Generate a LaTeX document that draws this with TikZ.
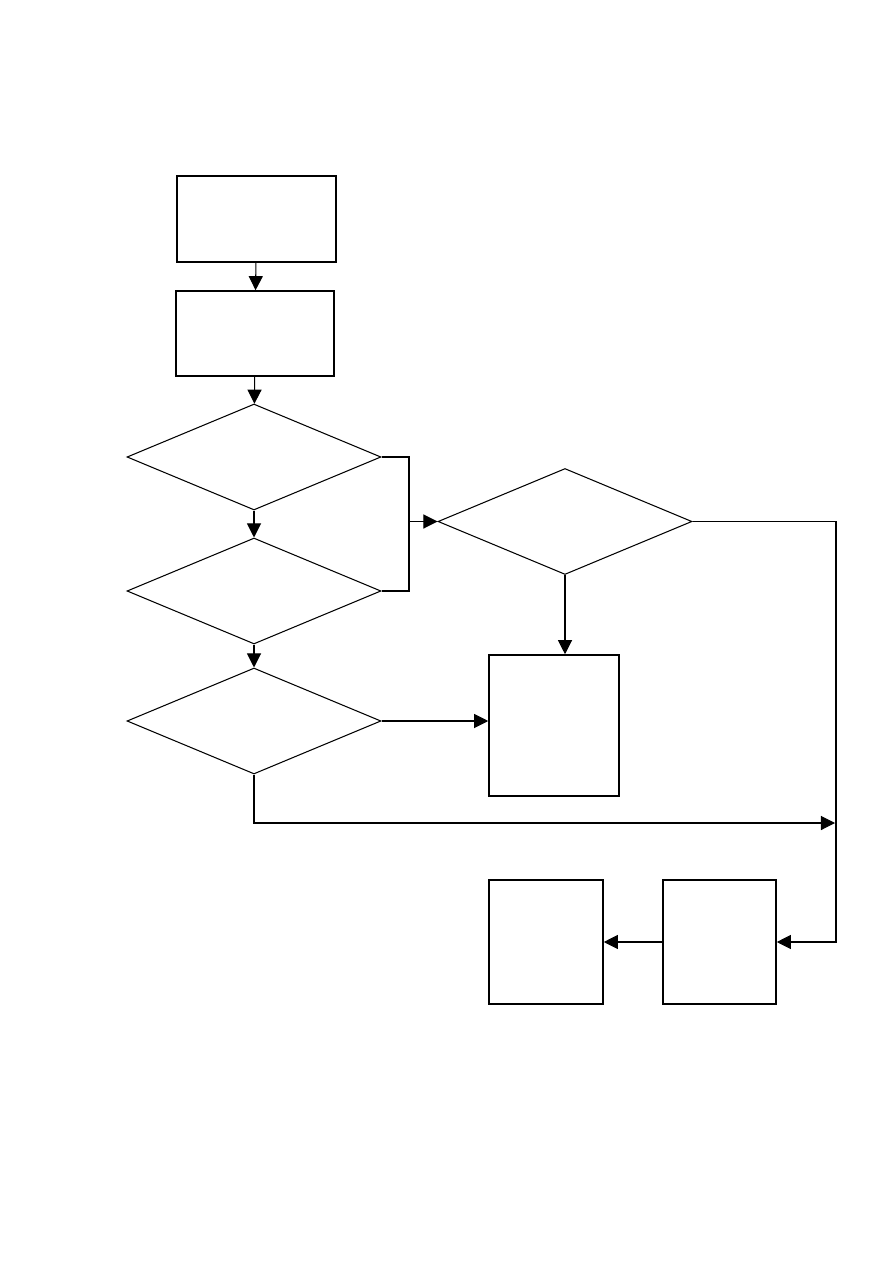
\documentclass[tikz,border=0pt]{standalone}
\usepackage{tikz}
\usetikzlibrary{arrows.meta, shapes.geometric, positioning, calc}
\tikzset{
  % plain process box
  PBox/.style={rectangle,draw=black,fill=white,inner sep=0pt,
               line width=0.9pt,minimum width=#1},
  PBox/.default=3.18cm,
  % decision diamond
  DBox/.style={diamond,draw=black,fill=white,inner sep=0pt,
               line width=0.6pt,minimum width=5.08cm,minimum height=2.12cm},
  % connectors
  Arr/.style ={-{Triangle[length=8pt,width=8pt]},line width=0.6pt,color=black},
  Ln/.style  ={line width=0.6pt,color=black},
}
\begin{document}
\begin{tikzpicture}[x=0.02cm,y=-0.02cm]
      \useasboundingbox (0,0) rectangle (893,1263);
      % left column
      \node[PBox,minimum height=1.72cm] at (256.5,219) (start) {};
      \node[PBox=3.16cm,minimum height=1.70cm] at (255,333.5) (prep) {};
      \draw[Arr] (start)--(prep);
      \node[DBox] at (254,457) (dA) {};
      \draw[Arr] (prep)--(dA);
      \node[DBox] at (254,591) (dB) {};
      \draw[Arr] (dA)--(dB);
      \node[DBox] at (254,721) (dC) {};
      \draw[Arr] (dB)--(dC);
      % middle
      \node[DBox] at (565,521.5) (dD) {};
      \node[PBox=2.60cm,minimum height=2.82cm] at (554,725.5) (res) {};
      \draw[Arr] (dD.south)--(dD.south|-res.north);
      \draw[Arr] (dC.east)--(res.west|-dC.east);
      % join of the two upper decisions
      \coordinate (jn) at (409,457);
      \draw[Ln] (dA.east)--(jn)|-(dB.east);
      \draw[Arr] (jn|-dD.west)--(dD.west);
      % bottom row
      \node[PBox=2.26cm,minimum height=2.48cm] at (719.5,942) (rB) {};
      \node[PBox=2.28cm,minimum height=2.48cm] at (546,942) (rA) {};
      \draw[Arr] (rB)--(rA);
      \coordinate (cr) at (836,521.5);
      \draw[Arr] (dD.east)--(cr)|-(rB.east);
      \coordinate (mg) at (835,823);
      \draw[Arr] (dC.south)|-(mg);
    \end{tikzpicture}
\end{document}
